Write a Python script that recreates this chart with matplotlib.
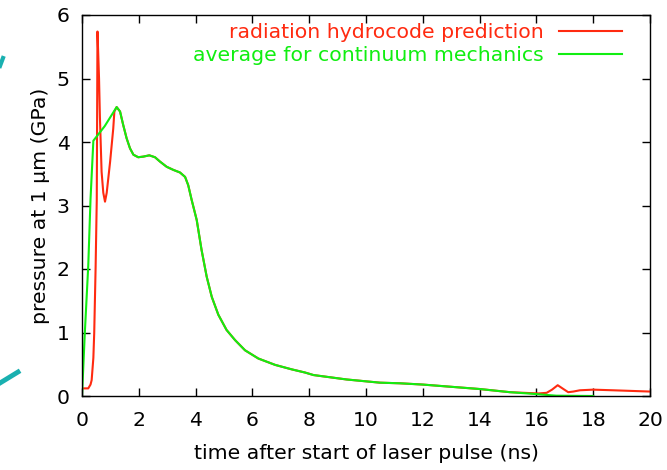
import matplotlib
matplotlib.use('Agg')
import matplotlib.pyplot as plt
from matplotlib.lines import Line2D

# radiation hydrocode prediction (red)
red_t = [0.0, 0.22, 0.3, 0.34, 0.4, 0.43, 0.48, 0.52, 0.545, 0.6, 0.63, 0.69, 0.75, 0.81,
         0.87, 0.99, 1.1, 1.14,
         1.22, 1.34, 1.45, 1.57, 1.69, 1.81, 1.98, 2.16, 2.37, 2.57, 2.75, 2.98, 3.22,
         3.45, 3.63, 3.74, 3.86, 4.04, 4.21, 4.39, 4.57, 4.8, 5.09, 5.39, 5.74, 6.21,
         6.8, 7.38, 7.85, 8.15, 9.32, 10.49, 11.2, 12.0, 14.0, 15.07, 16.07, 16.36,
         16.55, 16.75, 16.95, 17.12, 17.3, 17.53, 18.0, 18.7, 20.0]
red_p = [0.12, 0.12, 0.18, 0.25, 0.6, 0.99, 2.04, 3.09, 5.74, 5.0, 4.4, 3.53, 3.2, 3.06,
         3.2, 3.69, 4.21, 4.48,
         4.55, 4.48, 4.27, 4.06, 3.9, 3.8, 3.76, 3.77, 3.79, 3.76, 3.69, 3.61, 3.56,
         3.52, 3.45, 3.32, 3.09, 2.77, 2.3, 1.88, 1.56, 1.28, 1.04, 0.88, 0.72, 0.59,
         0.49, 0.42, 0.37, 0.33, 0.26, 0.21, 0.2, 0.18, 0.11, 0.06, 0.04, 0.05,
         0.1, 0.17, 0.11, 0.06, 0.07, 0.09, 0.1, 0.09, 0.07]

# average for continuum mechanics (green)
green_t = [0.0, 0.1, 0.22, 0.3, 0.4, 0.8, 1.22, 1.34, 1.45, 1.57, 1.69, 1.81, 1.98, 2.16,
           2.37, 2.57, 2.75, 2.98, 3.22, 3.45, 3.63, 3.74, 3.86, 4.04, 4.21, 4.39, 4.57,
           4.8, 5.09, 5.39, 5.74, 6.21, 6.8, 7.38, 7.85, 8.15, 9.32, 10.49, 11.2, 12.0,
           14.0, 15.07, 16.0, 16.7, 18.0]
green_p = [0.0, 1.0, 2.05, 3.1, 4.02, 4.25, 4.55, 4.48, 4.27, 4.06, 3.9, 3.8, 3.76, 3.77,
           3.79, 3.76, 3.69, 3.61, 3.56, 3.52, 3.45, 3.32, 3.09, 2.77, 2.3, 1.88, 1.56,
           1.28, 1.04, 0.88, 0.72, 0.59, 0.49, 0.42, 0.37, 0.33, 0.26, 0.21, 0.2, 0.18,
           0.11, 0.06, 0.03, 0.005, 0.0]

x_ticks = [0, 2, 4, 6, 8, 10, 12, 14, 16, 18, 20]
y_ticks = [0, 1, 2, 3, 4, 5, 6]

plt.rcParams['font.family'] = ['DejaVu Sans']
fs = 14.7

fig = plt.figure(figsize=(6.67, 4.70), dpi=100)
ax = fig.add_axes([82 / 667, 74 / 470, 568 / 667, 381 / 470])

ax.plot(red_t, red_p, color='#ff2a10', lw=1.5, label='radiation hydrocode prediction')
ax.plot(green_t, green_p, color='#11ee11', lw=1.5, label='average for continuum mechanics')

ax.set_xlim(0, 20)
ax.set_ylim(0, 6)
ax.set_xticks(x_ticks)
ax.set_yticks(y_ticks)
ax.tick_params(direction='in', length=6, width=1, top=True, right=True,
               labelsize=fs, pad=9)
ax.tick_params(axis='x', pad=11)
for s in ax.spines.values():
    s.set_linewidth(1)

ax.set_xlabel('time after start of laser pulse (ns)', fontsize=fs, labelpad=10)
ax.set_ylabel('pressure at 1 \u03bcm (GPa)', fontsize=fs, labelpad=5)

ax.legend(loc='upper right', bbox_to_anchor=(1 - 28 / 568, 1 - 8 / 381),
          frameon=False, markerfirst=False, labelcolor='linecolor',
          handlelength=3.1, fontsize=fs, borderaxespad=0, borderpad=0,
          labelspacing=0.2, handletextpad=0.75)

# teal fragments at the left edge of the source image
teal = '#19b0b0'
fig.add_artist(Line2D([0 / 667, 18 / 667], [1 - 383 / 470, 1 - 372 / 470],
                      color=teal, lw=3.5, transform=fig.transFigure))
fig.add_artist(Line2D([0 / 667, 3 / 667], [1 - 66 / 470, 1 - 58 / 470],
                      color=teal, lw=3, transform=fig.transFigure))

fig.savefig('out.png', dpi=100)
